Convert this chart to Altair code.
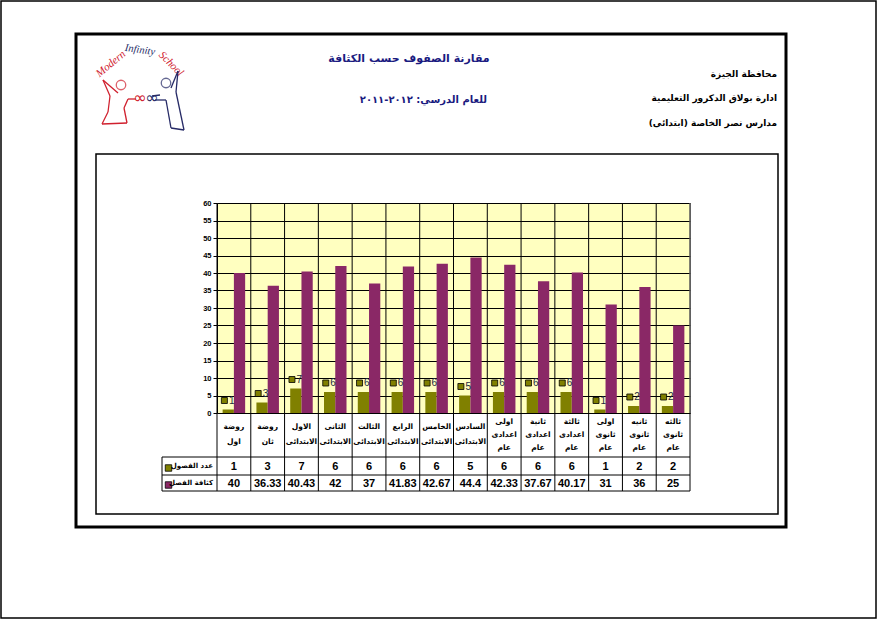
import altair as alt
import pandas as pd

# ---------------- data ----------------
categories = [
    "روضة\nاول", "روضة\nثان", "الاول\nالابتدائى", "الثانى\nالابتدائى",
    "الثالث\nالابتدائى", "الرابع\nالابتدائى", "الخامس\nالابتدائى", "السادس\nالابتدائى",
    "اولى\nاعدادى\nعام", "ثانية\nاعدادى\nعام", "ثالثة\nاعدادى\nعام",
    "اولى\nثانوى\nعام", "ثانيه\nثانوى\nعام", "ثالثه\nثانوى\nعام",
]
series_names = ["عدد الفصول", "كثافة الفصل"]
class_counts = [1, 3, 7, 6, 6, 6, 6, 5, 6, 6, 6, 1, 2, 2]
class_density = [40, 36.33, 40.43, 42, 37, 41.83, 42.67, 44.4, 42.33, 37.67, 40.17, 31, 36, 25]
y_ticks = list(range(0, 61, 5))

title_text = "مقارنة الصفوف حسب الكثافة"
subtitle_text = "للعام الدرسي:  ٢٠١٢-٢٠١١"
header_lines = ["محافظة الجيزة", "ادارة بولاق الدكرور التعليمية", "مدارس نصر الخاصة (ابتدائى)"]

# ---------------- layout ----------------
OX, OY = 217, 203
W, H = 473, 210
CW, CH = 877, 619


def px(x):
    return x - OX


def py(y):
    return y - OY


OLIVE = "#808000"
PLUM = "#8a2866"
NAVY = "#1a1a80"
RED = "#d0202e"
LNAVY = "#262a66"
AR_FONT = "DejaVu Sans"
NUM_FONT = "Liberation Sans"


def fmt(v):
    return f"{v:g}"


wide = pd.DataFrame({
    "cat": categories,
    "nlines": [c.count("\n") + 1 for c in categories],
    "count": class_counts,
    "density": class_density,
    "count_txt": [fmt(v) for v in class_counts],
    "density_txt": [fmt(v) for v in class_density],
})
long = wide.melt(id_vars=["cat"], value_vars=["count", "density"], var_name="key", value_name="value")
long["series"] = long["key"].map({"count": series_names[0], "density": series_names[1]})

one = pd.DataFrame({"d": [0]})

xenc = alt.X("cat:N", sort=categories, scale=alt.Scale(paddingInner=0, paddingOuter=0), axis=None)
yscale = alt.Scale(domain=[0, 60], nice=False, zero=True)
yaxis = alt.Axis(values=y_ticks, grid=True, gridColor="black", gridWidth=1, gridOpacity=1,
                 domainColor="black", domainWidth=1, tickColor="black", tickSize=4,
                 labelFont=NUM_FONT, labelFontSize=7.5, labelFontWeight="bold",
                 labelColor="black", labelPadding=2, title=None)


def box(x1, y1, x2, y2, sw, color="black"):
    return alt.Chart(one).mark_rect(fill="white", fillOpacity=0, stroke=color, strokeWidth=sw).encode(
        x=alt.value(px(x1)), x2=alt.value(px(x2)), y=alt.value(py(y1)), y2=alt.value(py(y2)))


def seg(x1, y1, x2, y2, color="black", sw=1):
    return alt.Chart(one).mark_rule(color=color, strokeWidth=sw).encode(
        x=alt.value(px(x1)), y=alt.value(py(y1)), x2=alt.value(px(x2)), y2=alt.value(py(y2)))


def label(txt, x, y, size, color="black", align="center", weight="bold",
          font=AR_FONT, angle=0, style="normal"):
    kw = dict(text=txt, fontSize=size, color=color, align=align, baseline="middle",
              fontWeight=weight, font=font, fontStyle=style)
    if angle:
        kw["angle"] = angle
    return alt.Chart(one).mark_text(**kw).encode(x=alt.value(px(x)), y=alt.value(py(y)))


layers = []
# page borders
layers.append(box(1, 1, 876, 618, 1.5))
layers.append(box(76, 34, 786, 527, 3))
layers.append(box(96, 154, 778, 514, 1.5))

# logo
layers.append(label("Modern", 111, 64, 11, RED, weight="normal", font="Liberation Serif", angle=320, style="italic"))
layers.append(label("Infinity", 140, 50, 10.5, LNAVY, weight="normal", font="Liberation Serif", angle=8, style="italic"))
layers.append(label("School", 171, 64, 11, RED, weight="normal", font="Liberation Serif", angle=45, style="italic"))
layers.append(alt.Chart(one).mark_point(shape="circle", size=90, stroke=RED, strokeWidth=1.3, filled=False).encode(
    x=alt.value(px(121)), y=alt.value(py(85))))
layers.append(alt.Chart(one).mark_point(shape="circle", size=90, stroke=LNAVY, strokeWidth=1.3, filled=False).encode(
    x=alt.value(px(166)), y=alt.value(py(83))))
for s in [(103, 80, 118, 93), (103, 80, 110, 96), (110, 96, 108, 112), (108, 112, 102, 124),
          (102, 124, 127, 123), (127, 123, 124, 108), (124, 108, 128, 99), (128, 99, 136, 99)]:
    layers.append(seg(*s, color=RED, sw=1.3))
for s in [(171, 88, 178, 71), (178, 71, 176, 92), (176, 92, 184, 130), (184, 130, 171, 128),
          (171, 128, 166, 100), (166, 100, 155, 100), (160, 95, 152, 96)]:
    layers.append(seg(*s, color=LNAVY, sw=1.3))
layers.append(label("∞", 140, 98, 16, RED, weight="normal"))
layers.append(label("∞", 152, 98, 16, LNAVY, weight="normal"))

# header texts
layers.append(label(title_text, 409, 59, 11, NAVY))
layers.append(label(subtitle_text, 487, 100, 10, NAVY, align="right"))
for txt, yy in zip(header_lines, [74, 98, 123]):
    layers.append(label(txt, 777, yy, 9, "black", align="right"))

# table / category boundaries
layers.append(alt.Chart(wide).mark_rule(color="black", strokeWidth=1).encode(
    x=alt.X("cat:N", sort=categories, bandPosition=0, scale=alt.Scale(paddingInner=0, paddingOuter=0), axis=None),
    y=alt.value(0), y2=alt.value(py(491))))
layers.append(seg(690, 203, 690, 491))
layers.append(seg(690, 203, 690, 413, color="#808080"))
for yy in [457, 475, 491]:
    layers.append(seg(162, yy, 690, yy))
layers.append(seg(162, 457, 162, 491))

# bars
layers.append(alt.Chart(long).mark_bar().encode(
    x=xenc,
    xOffset=alt.XOffset("series:N", sort=series_names, scale=alt.Scale(paddingInner=0, paddingOuter=0.5)),
    y=alt.Y("value:Q", scale=yscale, axis=yaxis),
    color=alt.Color("series:N", scale=alt.Scale(domain=series_names, range=[OLIVE, PLUM]), legend=None),
))

# data labels for class counts
layers.append(alt.Chart(wide).mark_square(size=36, color=OLIVE, fill=OLIVE, opacity=1, stroke="black",
                                          strokeWidth=0.8, xOffset=-9.5, yOffset=-9).encode(
    x=xenc, y=alt.Y("count:Q", scale=yscale, axis=yaxis)))
layers.append(alt.Chart(wide).mark_text(align="left", baseline="middle", dx=-5, dy=-9, fontSize=10,
                                        font=NUM_FONT, color="#1e2a40").encode(
    x=xenc, y=alt.Y("count:Q", scale=yscale, axis=yaxis), text="count_txt:N"))

# category labels (2-line and 3-line)
layers.append(alt.Chart(wide).transform_filter("datum.nlines == 2").mark_text(
    lineBreak="\n", lineHeight=15, fontSize=7.5, fontWeight="bold",
    font=AR_FONT, baseline="middle", color="black").encode(
    x=xenc, y=alt.value(py(427)), text="cat:N"))
layers.append(alt.Chart(wide).transform_filter("datum.nlines == 3").mark_text(
    lineBreak="\n", lineHeight=13.3, fontSize=7.5, fontWeight="bold",
    font=AR_FONT, baseline="middle", color="black").encode(
    x=xenc, y=alt.value(py(421.5)), text="cat:N"))

# table values
layers.append(alt.Chart(wide).mark_text(fontSize=11, fontWeight="bold", font=NUM_FONT,
                                        baseline="middle", color="black").encode(
    x=xenc, y=alt.value(py(466.5)), text="count_txt:N"))
layers.append(alt.Chart(wide).mark_text(fontSize=11, fontWeight="bold", font=NUM_FONT,
                                        baseline="middle", color="black").encode(
    x=xenc, y=alt.value(py(483.5)), text="density_txt:N"))

# legend keys in table
layers.append(alt.Chart(one).mark_square(size=42, fill=OLIVE, opacity=1, stroke="black", strokeWidth=0.8).encode(
    x=alt.value(px(168.5)), y=alt.value(py(468))))
layers.append(alt.Chart(one).mark_square(size=42, fill=PLUM, opacity=1, stroke="black", strokeWidth=0.8).encode(
    x=alt.value(px(168.5)), y=alt.value(py(485))))
layers.append(label(series_names[0], 213, 466, 7, "black", align="right"))
layers.append(label(series_names[1], 213, 483, 7, "black", align="right"))

chart = alt.layer(*layers).properties(
    width=W, height=H,
    padding={"left": OX, "top": OY, "right": CW - OX - W, "bottom": CH - OY - H},
    autosize=alt.AutoSizeParams(type="none"),
    background="white",
).configure_view(fill="#ffffc0", stroke="#808080", strokeWidth=1)

chart.save("out.html", embed_options={"renderer": "svg", "actions": False})
